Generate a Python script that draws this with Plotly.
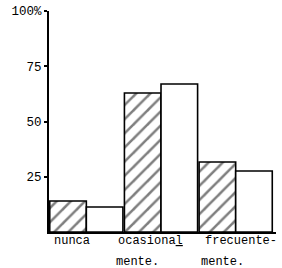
import plotly.graph_objects as go

categories = ["nunca", "ocasional", "frecuente"]
label_line1 = ["nunca", "ocasiona<u>l</u>", "frecuente-"]
label_line2 = ["", "mente.", "mente."]
hatched_values = [14.0, 62.9, 31.7]
white_values = [11.3, 67.0, 27.6]
y_tickvals = [25, 50, 75, 100]
y_ticktext = ["25", "50", "75", "100%"]

FONT = "Liberation Mono, Courier New, monospace"

fig = go.Figure()
fig.add_trace(go.Bar(
    x=categories, y=hatched_values,
    marker=dict(color="white", line=dict(color="black", width=1.6),
                pattern=dict(shape="/", fgcolor="black", bgcolor="white",
                             size=10, solidity=0.25)),
))
fig.add_trace(go.Bar(
    x=categories, y=white_values,
    marker=dict(color="white", line=dict(color="black", width=1.6)),
))

line1_shift = [-34, -45, -33]
line2_shift = [0, -47, -37]
for i, c in enumerate(categories):
    fig.add_annotation(x=c, xref="x", y=0, yref="paper", text=label_line1[i],
                       showarrow=False, xanchor="left", yanchor="middle",
                       xshift=line1_shift[i], yshift=-9,
                       font=dict(family=FONT, size=12, color="black"))
    if label_line2[i]:
        fig.add_annotation(x=c, xref="x", y=0, yref="paper", text=label_line2[i],
                           showarrow=False, xanchor="left", yanchor="middle",
                           xshift=line2_shift[i], yshift=-30,
                           font=dict(family=FONT, size=12, color="black"))

fig.update_layout(
    width=282, height=268,
    margin=dict(l=49, r=6, t=11, b=36),
    paper_bgcolor="white", plot_bgcolor="white",
    barmode="group", bargap=0.02, bargroupgap=0,
    showlegend=False,
)
fig.update_xaxes(range=[-0.5, 2.54], showticklabels=False, ticks="",
                 showline=True, linecolor="black", linewidth=1.5,
                 showgrid=False, zeroline=False)
fig.update_yaxes(range=[0, 100], tickvals=y_tickvals, ticktext=y_ticktext,
                 ticks="outside", ticklen=3, tickcolor="black", tickwidth=1.5,
                 showline=True, linecolor="black", linewidth=2,
                 showgrid=False, zeroline=False, ticklabeloverflow="allow",
                 tickfont=dict(family=FONT, size=12.5, color="black"))

fig.write_html("out.html",
               config={"displayModeBar": False},
               post_script="document.body.style.margin='0';document.body.style.overflow='hidden';")
